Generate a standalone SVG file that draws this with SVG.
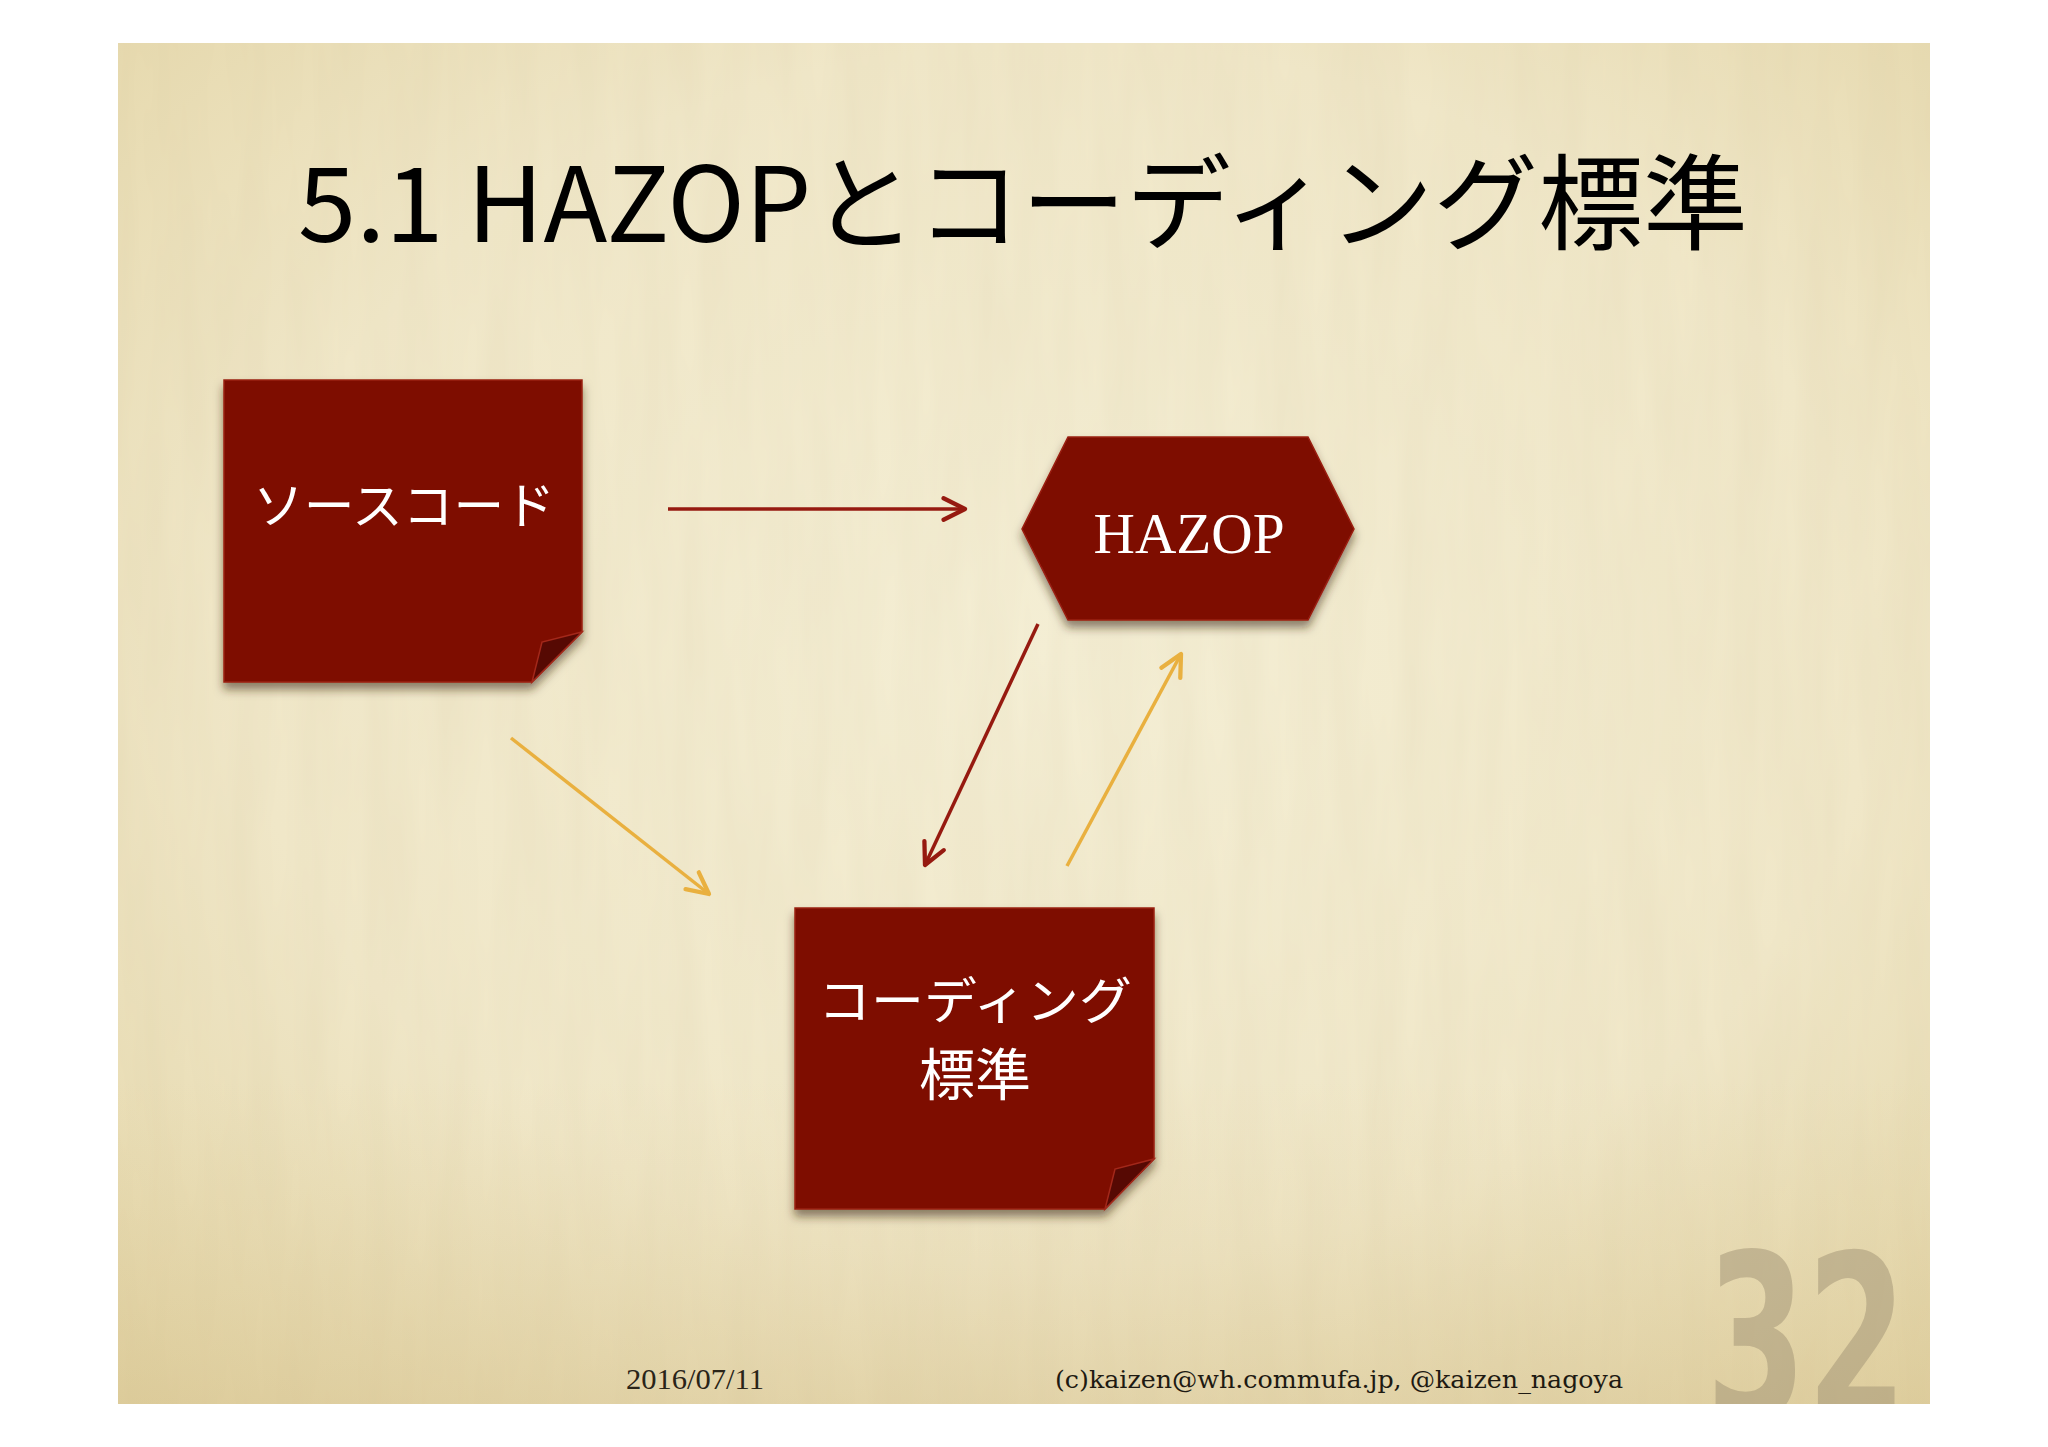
<svg xmlns="http://www.w3.org/2000/svg" width="2048" height="1447" viewBox="0 0 2048 1447">
<defs>
<radialGradient id="paper" cx="0.52" cy="0.45" r="0.75">
<stop offset="0" stop-color="#f4eed4"/>
<stop offset="0.6" stop-color="#f0e7c8"/>
<stop offset="1" stop-color="#e4d6a8"/>
</radialGradient>
<linearGradient id="bottomTint" x1="0" y1="0" x2="0" y2="1">
<stop offset="0" stop-color="#d9c48c" stop-opacity="0"/>
<stop offset="1" stop-color="#cdb57c" stop-opacity="0.3"/>
</linearGradient>
<filter id="noise" x="0" y="0" width="100%" height="100%">
<feTurbulence type="fractalNoise" baseFrequency="0.03 0.004" numOctaves="3" seed="4" result="n"/>
<feColorMatrix type="matrix" values="0 0 0 0 0.55  0 0 0 0 0.45  0 0 0 0 0.25  0 0 0 0.14 -0.03"/>
</filter>
<filter id="shadow" x="-20%" y="-20%" width="140%" height="140%">
<feDropShadow dx="0" dy="7" stdDeviation="5" flood-color="#3b2c10" flood-opacity="0.55"/>
</filter>
<clipPath id="slideClip"><rect x="118" y="43" width="1812" height="1361"/></clipPath>
<marker id="headRed" markerUnits="userSpaceOnUse" markerWidth="30" markerHeight="30" viewBox="-24 -14 28 28" refX="0" refY="0" orient="auto">
<path d="M-20,-10 L0,0 L-20,10" fill="none" stroke="#961a10" stroke-width="4" stroke-linecap="round" stroke-linejoin="round"/>
</marker>
<marker id="headOrange" markerUnits="userSpaceOnUse" markerWidth="30" markerHeight="30" viewBox="-24 -14 28 28" refX="0" refY="0" orient="auto">
<path d="M-20,-10 L0,0 L-20,10" fill="none" stroke="#e9b03f" stroke-width="4" stroke-linecap="round" stroke-linejoin="round"/>
</marker>
</defs>
<style>
.node{fill:#7e0f05;stroke:#9a1f12;stroke-width:1.5}
.fold{fill:#560903;stroke:#a3281a;stroke-width:1.5}
.jp{font-family:"Noto Sans CJK JP","Noto Sans CJK SC",sans-serif;fill:#ffffff}
.red{stroke:#961a10;stroke-width:3.5;fill:none}
.orange{stroke:#e9b03f;stroke-width:3.5;fill:none}
</style>
<rect x="0" y="0" width="2048" height="1447" fill="#ffffff"/>
<g id="slide">
<rect x="118" y="43" width="1812" height="1361" fill="url(#paper)"/>
<rect x="118" y="43" width="1812" height="1361" filter="url(#noise)"/>
<rect x="118" y="1080" width="1812" height="324" fill="url(#bottomTint)"/>
</g>
<g id="title">
<text x="298" y="242" font-family="Noto Sans CJK JP, Noto Sans, sans-serif" font-size="104" fill="#000000" textLength="1450" lengthAdjust="spacingAndGlyphs">5.1 HAZOPとコーディング標準</text>
</g>
<g id="connectors">
<line class="red" x1="668" y1="509" x2="965" y2="509" marker-end="url(#headRed)"/>
<line class="red" x1="1038" y1="624" x2="925" y2="865" marker-end="url(#headRed)"/>
<line class="orange" x1="1067" y1="866" x2="1181" y2="654" marker-end="url(#headOrange)"/>
<line class="orange" x1="511" y1="738" x2="709" y2="894" marker-end="url(#headOrange)"/>
</g>
<g id="node-source">
<path class="node" filter="url(#shadow)" d="M224,380 L582,380 L582,632 L532,682 L224,682 Z"/>
<path class="fold" d="M582,632 L532,682 L542,642 Z"/>
<text class="jp" x="404" y="524" font-size="50" text-anchor="middle" textLength="302" lengthAdjust="spacingAndGlyphs">ソースコード</text>
</g>
<g id="node-hazop">
<path class="node" filter="url(#shadow)" d="M1068,437 L1308,437 L1354,529 L1308,620 L1068,620 L1022,529 Z"/>
<text x="1189" y="553" font-family="Liberation Serif, serif" font-size="58" fill="#ffffff" text-anchor="middle" textLength="191" lengthAdjust="spacingAndGlyphs">HAZOP</text>
</g>
<g id="node-coding">
<path class="node" filter="url(#shadow)" d="M795,908 L1154,908 L1154,1159 L1105,1209 L795,1209 Z"/>
<path class="fold" d="M1154,1159 L1105,1209 L1115,1169 Z"/>
<text class="jp" x="975" y="1019" font-size="50" text-anchor="middle" textLength="314" lengthAdjust="spacingAndGlyphs">コーディング</text>
<text class="jp" x="975" y="1095" font-size="56" text-anchor="middle">標準</text>
</g>
<g id="footer">
<text x="626" y="1389" font-family="Liberation Serif, serif" font-size="30" fill="#2a2418" textLength="138" lengthAdjust="spacingAndGlyphs">2016/07/11</text>
<text x="1055" y="1388" font-family="DejaVu Serif, serif" font-size="25" fill="#1e1a12" textLength="568" lengthAdjust="spacingAndGlyphs">(c)kaizen@wh.commufa.jp, @kaizen_nagoya</text>
<g clip-path="url(#slideClip)">
<text x="1706" y="1418" font-family="Liberation Sans Narrow, DejaVu Sans Condensed, sans-serif" font-weight="bold" font-size="228" fill="#a09274" fill-opacity="0.5" textLength="201" lengthAdjust="spacingAndGlyphs">32</text>
</g>
</g>
</svg>
